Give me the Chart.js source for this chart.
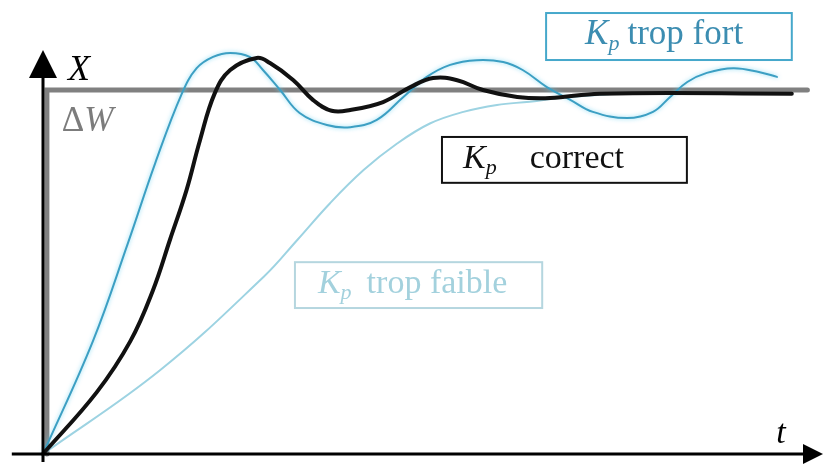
<!DOCTYPE html>
<html>
<head>
<meta charset="utf-8">
<script src="https://cdn.jsdelivr.net/npm/chart.js@4.4.0/dist/chart.umd.min.js"></script>
<style>
  html, body { margin: 0; padding: 0; background: #fff; }
  #wrap { width: 823px; height: 466px; }
</style>
</head>
<body>
<div id="wrap"><canvas id="chart" width="823" height="466"></canvas></div>
<script>
// Réponse indicielle, ΔW = 1, temps en unités arbitraires (0 = origine)
const tCorrect = [0, 6.9, 11.2, 14.1, 16.3, 18.4, 20.1, 22.0, 24.0, 27.4, 29.1, 32.1, 34.6, 37.0, 39.4, 43.6, 47.1, 50.0, 53.1, 56.4, 60.8, 65.0, 71.4, 96.0];
const xCorrect = [0, 0.17, 0.31, 0.45, 0.59, 0.725, 0.86, 0.99, 1.055, 1.088, 1.074, 1.027, 0.973, 0.943, 0.945, 0.967, 1.008, 1.033, 1.027, 1.0, 0.981, 0.978, 0.99, 0.99];

const tFort = [0, 6.4, 10.9, 14.4, 17.8, 19.7, 21.8, 24.0, 26.5, 28.2, 30.4, 32.9, 36.4, 39.4, 42.8, 46.2, 49.2, 52.2, 55.6, 59.0, 61.5, 64.6, 67.6, 70.5, 74.9, 78.2, 80.4, 82.6, 85.1, 88.5, 91.9, 94.1];
const xFort = [0, 0.31, 0.58, 0.8, 0.99, 1.06, 1.091, 1.102, 1.091, 1.055, 1.0, 0.937, 0.904, 0.898, 0.918, 0.981, 1.036, 1.069, 1.082, 1.077, 1.055, 1.008, 0.973, 0.94, 0.923, 0.94, 0.981, 1.022, 1.047, 1.06, 1.049, 1.036];

const tFaible = [0, 15.0, 28.3, 32.6, 36.8, 41.1, 45.4, 49.6, 53.9, 58.2, 62.4, 67.0, 75.0];
const xFaible = [0, 0.23, 0.487, 0.588, 0.689, 0.78, 0.853, 0.908, 0.94, 0.959, 0.968, 0.98, 0.992];

// consigne (échelon ΔW)
const tConsigne = [0.5, 0.5, 98];
const xConsigne = [0, 1, 1];

const SERIF = '"Liberation Serif", "Times New Roman", serif';

function pts(ts, xs) {
  return ts.map((t, i) => ({ x: t, y: xs[i] }));
}

// étiquettes encadrées
const kpBoxes = [
  { word: 'trop fort',   t0: 64.5,  t1: 96.0,  v0: 1.2115, v1: 1.0824, border: '#46a8cb', text: '#3c8db1', pad: 39, gap: 8, size: 35 },
  { word: 'correct',     t0: 51.15, t1: 82.55, v0: 0.871,  v1: 0.745,  border: '#111111', text: '#111111', pad: 21, gap: 33, size: 34 },
  { word: 'trop faible', t0: 32.3,  t1: 64.0,  v0: 0.527,  v1: 0.401,  border: '#b5d6df', text: '#a3d1dd', pad: 23, gap: 15, size: 34 }
];

const axisLabels = [
  { parts: [['italic', 'X']], t: 3.2, v: 1.027, color: '#000', size: 36 },
  { parts: [['', 'Δ'], ['italic', 'W']], t: 2.4, v: 0.887, color: '#7c7c7c', size: 35 },
  { parts: [['italic', 't']], t: 94.0, v: 0.03, color: '#000', size: 34 }
];

const glow = {
  id: 'glow',
  beforeDatasetDraw(chart, args) {
    const ds = chart.data.datasets[args.index];
    chart.ctx.save();
    if (ds.glowColor) {
      chart.ctx.shadowColor = ds.glowColor;
      chart.ctx.shadowBlur = 4;
    }
  },
  afterDatasetDraw(chart) {
    chart.ctx.restore();
  }
};

const decorations = {
  id: 'decorations',
  afterDatasetsDraw(chart) {
    const { ctx, scales: { x, y } } = chart;
    const ox = x.getPixelForValue(0);
    const oy = y.getPixelForValue(0);
    const yTop = y.getPixelForValue(1.11);
    const xEnd = x.getPixelForValue(100);
    const xStart = x.getPixelForValue(-4);

    ctx.save();
    ctx.strokeStyle = '#000';
    ctx.fillStyle = '#000';
    ctx.lineWidth = 3;
    // axe vertical
    ctx.beginPath();
    ctx.moveTo(ox, oy + 8);
    ctx.lineTo(ox, yTop + 26);
    ctx.stroke();
    ctx.beginPath();
    ctx.moveTo(ox, yTop);
    ctx.lineTo(ox - 14, yTop + 28);
    ctx.lineTo(ox + 14, yTop + 28);
    ctx.closePath();
    ctx.fill();
    // axe horizontal
    ctx.beginPath();
    ctx.moveTo(xStart, oy);
    ctx.lineTo(xEnd - 16, oy);
    ctx.stroke();
    ctx.beginPath();
    ctx.moveTo(xEnd, oy);
    ctx.lineTo(xEnd - 20, oy - 10);
    ctx.lineTo(xEnd - 20, oy + 10);
    ctx.closePath();
    ctx.fill();

    // X, ΔW, t
    ctx.textBaseline = 'alphabetic';
    axisLabels.forEach(l => {
      let px = x.getPixelForValue(l.t);
      const py = y.getPixelForValue(l.v);
      ctx.fillStyle = l.color;
      l.parts.forEach(([style, s]) => {
        ctx.font = `${style} ${l.size}px ${SERIF}`;
        ctx.fillText(s, px, py);
        px += ctx.measureText(s).width;
      });
    });

    // cadres K_p
    kpBoxes.forEach(b => {
      const left = x.getPixelForValue(b.t0);
      const right = x.getPixelForValue(b.t1);
      const top = y.getPixelForValue(b.v0);
      const bottom = y.getPixelForValue(b.v1);
      ctx.fillStyle = '#fff';
      ctx.fillRect(left, top, right - left, bottom - top);
      ctx.strokeStyle = b.border;
      ctx.lineWidth = 2;
      ctx.strokeRect(left, top, right - left, bottom - top);

      const base = top + 31;
      let px = left + b.pad;
      ctx.fillStyle = b.text;
      ctx.font = `italic ${b.size}px ${SERIF}`;
      ctx.fillText('K', px, base);
      px += ctx.measureText('K').width;
      ctx.font = `italic 22px ${SERIF}`;
      ctx.fillText('p', px, base + 6);
      px += ctx.measureText('p').width + b.gap;
      ctx.font = `${b.size}px ${SERIF}`;
      ctx.fillText(b.word, px, base);
    });
    ctx.restore();
  }
};

new Chart(document.getElementById('chart'), {
  type: 'line',
  data: {
    datasets: [
      {
        label: 'Kp correct',
        data: pts(tCorrect, xCorrect),
        borderColor: '#111111',
        borderWidth: 4,
        order: 0
      },
      {
        label: 'Kp trop fort',
        data: pts(tFort, xFort),
        borderColor: '#3c9fc3',
        borderWidth: 2,
        glowColor: 'rgba(110, 210, 240, 0.8)',
        order: 1
      },
      {
        label: 'Kp trop faible',
        data: pts(tFaible, xFaible),
        borderColor: '#9dd3e2',
        borderWidth: 2,
        order: 2
      },
      {
        label: 'ΔW',
        data: pts(tConsigne, xConsigne),
        borderColor: '#808080',
        borderWidth: 5,
        tension: 0,
        order: 3
      }
    ]
  },
  options: {
    responsive: false,
    animation: false,
    layout: { padding: 0 },
    elements: {
      point: { radius: 0 },
      line: { tension: 0.4, fill: false, borderCapStyle: 'round' }
    },
    scales: {
      x: { type: 'linear', display: false, min: -5.513, max: 100 },
      y: { type: 'linear', display: false, min: -0.033, max: 1.2473 }
    },
    plugins: {
      legend: { display: false },
      tooltip: { enabled: false }
    }
  },
  plugins: [glow, decorations]
});
</script>
</body>
</html>
